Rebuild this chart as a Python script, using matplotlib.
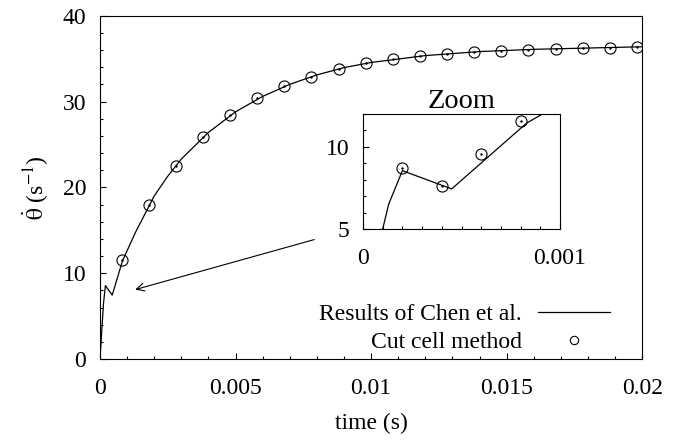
import numpy as np
import matplotlib
matplotlib.use('Agg')
import matplotlib.pyplot as plt
from matplotlib.lines import Line2D

plt.rcParams['font.family'] = ['Liberation Serif', 'DejaVu Serif']
plt.rcParams['mathtext.fontset'] = 'stix'
plt.rcParams['font.size'] = 17

# Results of Chen et al. (solid line)
chen_t = [0, 0.00013, 0.0002, 0.00045, 0.00083, 0.0013, 0.002, 0.0025, 0.003,
          0.004, 0.005, 0.006, 0.007, 0.008, 0.009, 0.010, 0.012, 0.014,
          0.016, 0.018, 0.020]
chen_v = [0, 6.5, 8.55, 7.44, 11.44, 14.7, 19.0, 21.3, 23.3,
          26.4, 28.8, 30.6, 32.0, 33.1, 33.95, 34.55, 35.35, 35.82,
          36.08, 36.23, 36.38]

# Cut cell method (circles) on the main plot
cut_t = [0.0008, 0.0018, 0.0028, 0.0038, 0.0048, 0.0058, 0.0068, 0.0078, 0.0088, 0.0098,
         0.0108, 0.0118, 0.0128, 0.0138, 0.0148, 0.0158, 0.0168, 0.0178, 0.0188, 0.0198]
cut_v = [11.54, 17.98, 22.53, 25.87, 28.40, 30.38, 31.82, 32.90, 33.80, 34.44,
         34.90, 35.31, 35.58, 35.78, 35.93, 36.05, 36.17, 36.21, 36.28, 36.36]

# Cut cell method, early samples shown in the zoom
zoom_t = [0.0002, 0.0004, 0.0006, 0.0008]
zoom_v = [8.70, 7.64, 9.57, 11.59]


def circles(a, t, v, ms=8):
    a.plot(t, v, linestyle='none', marker='o', markersize=ms, markerfacecolor='none',
           markeredgecolor='black', markeredgewidth=0.8)
    a.plot(t, v, linestyle='none', marker='.', markersize=1.5, color='black')


def style_ticks(a):
    a.tick_params(which='both', direction='in', top=False, right=False)
    a.tick_params(which='major', length=4.5, width=0.8)
    a.tick_params(which='minor', length=2.5, width=0.8)
    a.tick_params(axis='x', which='major', pad=14)
    a.tick_params(axis='y', which='major', pad=10)


fig = plt.figure(figsize=(6.77, 4.43), dpi=100)
ax = fig.add_axes([0.1477, 0.1896, 0.8010, 0.7750])

ax.plot(chen_t, chen_v, color='black', linewidth=0.9)
circles(ax, cut_t, cut_v)

ax.set_xlim(0, 0.02)
ax.set_ylim(0, 40)
ax.set_xticks([0, 0.005, 0.01, 0.015, 0.02])
ax.set_xticklabels(['0', '0.005', '0.01', '0.015', '0.02'])
ax.set_xticks(np.arange(0, 0.0201, 0.001), minor=True)
ax.set_yticks([0, 10, 20, 30, 40])
ax.set_yticks(np.arange(0, 41, 2), minor=True)
style_ticks(ax)
ax.set_xlabel('time (s)', labelpad=10)
ax.set_ylabel(r'$\dot{\mathrm{\theta}}$ (s$^{-1}$)', labelpad=8)

ax.annotate('', xy=(0.0012, 8.0), xytext=(0.008, 14.0),
            arrowprops=dict(arrowstyle='->', color='black', linewidth=0.8,
                            mutation_scale=14))

# legend: text right aligned, sample on the right
h1 = Line2D([], [], color='black', linewidth=0.9)
h2 = Line2D([], [], linestyle='none', marker='o', markersize=6, markerfacecolor='none',
            markeredgecolor='black', markeredgewidth=0.8)
leg1 = ax.legend([h1], ['Results of Chen et al.'], loc='center right',
                 bbox_to_anchor=(0.941, 0.131), frameon=False, markerfirst=False,
                 handlelength=3.05, borderpad=0, borderaxespad=0, handletextpad=0.69)
ax.add_artist(leg1)
ax.legend([h2], ['Cut cell method'], loc='center right',
          bbox_to_anchor=(0.941, 0.049), frameon=False, markerfirst=False,
          handlelength=3.05, borderpad=0, borderaxespad=0, handletextpad=0.69)

# zoom inset
axi = fig.add_axes([0.5362, 0.4831, 0.2910, 0.2596])
axi.plot(chen_t, chen_v, color='black', linewidth=0.9)
circles(axi, zoom_t, zoom_v)
axi.set_xlim(0, 0.001)
axi.set_ylim(5, 12)
axi.set_xticks([0, 0.001])
axi.set_xticklabels(['0', '0.001'])
axi.set_xticks(np.arange(0, 0.00101, 0.0001), minor=True)
axi.set_yticks([5, 10])
axi.set_yticks(np.arange(5, 12.1, 1), minor=True)
style_ticks(axi)
axi.set_title('Zoom', pad=2)

fig.savefig('out.png', dpi=100)
